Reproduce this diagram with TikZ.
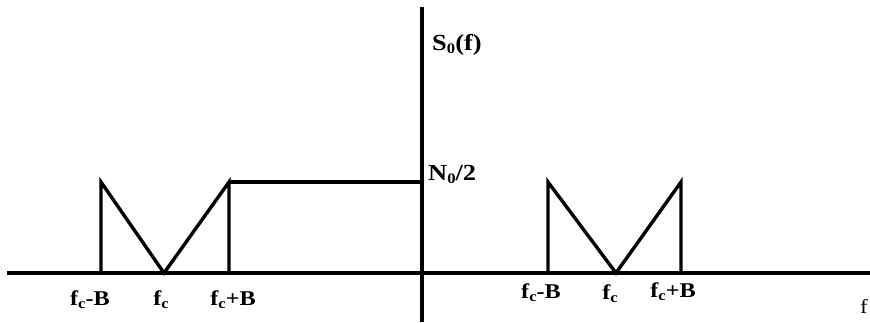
\documentclass[tikz,border=0pt]{standalone}
\usepackage{fontspec}
\setmainfont[FakeStretch=1.15]{Liberation Serif}
\newcommand{\lbl}[2]{\textbf{#1{\fontsize{14.5}{14.5}\selectfont\raisebox{-3.5pt}{#2}}}}
\begin{document}
\begin{tikzpicture}[x=1pt,y=-1pt,
  axis/.style={line width=3.6pt},
  spec/.style={line width=3.4pt,line join=miter},
  lab/.style={font=\fontsize{21}{25}\selectfont\bfseries,inner sep=0pt},
  biglab/.style={font=\fontsize{23}{27}\selectfont\bfseries,inner sep=0pt}]
\useasboundingbox (0,0) rectangle (870,322);
% axes
\coordinate (xl) at (7,273);
\coordinate (xr) at (872,273);
\coordinate (yt) at (422,7);
\coordinate (yb) at (422,322);
\draw[axis] (xl) -- (xr);
\draw[axis] (yt) -- (yb);
% left spectrum
\coordinate (l1b) at (101,273);
\coordinate (l1t) at (101,182);
\coordinate (l2) at (164,273);
\coordinate (l3t) at (229,182);
\coordinate (l3b) at (229,273);
\coordinate (ly) at (422,182);
\draw[spec] (l1b) -- (l1t) -- (l2) -- (l3t) -- (l3b);
\draw[spec] (l3t) -- (ly);
% right spectrum
\coordinate (r1b) at (548,273);
\coordinate (r1t) at (548,182);
\coordinate (r2) at (616,273);
\coordinate (r3t) at (681,182);
\coordinate (r3b) at (681,273);
\draw[spec] (r1b) -- (r1t) -- (r2) -- (r3t) -- (r3b);
% labels
\node[biglab,anchor=base west] (s0) at (432,50) {\lbl{S}{0}(f)};
\node[biglab,anchor=base west] (n0) at (428,180) {\lbl{N}{0}/2};
\node[lab,anchor=base] (la) at (90,305) {\lbl{f}{c}-B};
\node[lab,anchor=base] (lb) at (161,305) {\lbl{f}{c}};
\node[lab,anchor=base] (lc) at (233,305) {\lbl{f}{c}+B};
\node[lab,anchor=base] (ra) at (541,298) {\lbl{f}{c}-B};
\node[lab,anchor=base] (rb) at (610,299) {\lbl{f}{c}};
\node[lab,anchor=base] (rc) at (673,297) {\lbl{f}{c}+B};
\node[lab,anchor=base west,font=\fontsize{20}{24}\selectfont] (f) at (860,313) {f};
\end{tikzpicture}
\end{document}
